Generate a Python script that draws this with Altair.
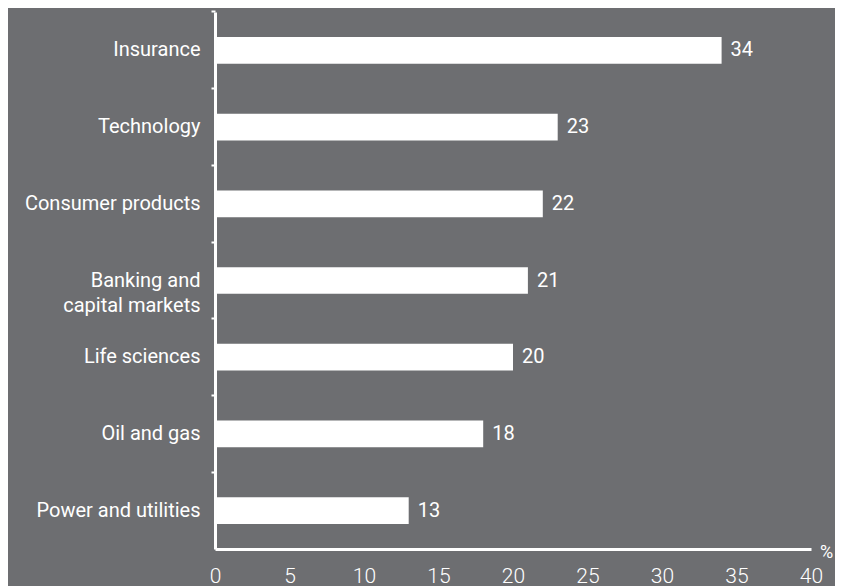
import altair as alt
import pandas as pd

categories = ["Insurance", "Technology", "Consumer products", "Banking and|capital markets",
              "Life sciences", "Oil and gas", "Power and utilities"]
values = [34, 23, 22, 21, 20, 18, 13]
x_ticks = [0, 5, 10, 15, 20, 25, 30, 35, 40]

df = pd.DataFrame({"sector": categories, "pct": values})

BG = "#6d6e71"
FONT = "Roboto"

y_enc = alt.Y(
    "sector:N",
    sort=categories,
    title=None,
    scale=alt.Scale(paddingInner=0.652, paddingOuter=0.326),
    axis=alt.Axis(
        domainColor="white", domainWidth=3,
        ticks=True, tickColor="white", tickWidth=2, tickSize=4, bandPosition=-0.937,
        labelColor="white", labelFontSize=20, labelFont=FONT, labelFontWeight="normal",
        labelPadding=11, labelLineHeight=25, labelExpr="split(datum.label, '|')",
        labelLimit=300,
    ),
)
x_enc = alt.X(
    "pct:Q",
    scale=alt.Scale(domain=[0, 40], nice=False),
    title="%",
    axis=alt.Axis(
        values=x_ticks, grid=False, ticks=False, tickSize=0,
        domainColor="white", domainWidth=3,
        labelColor="white", labelFontSize=21, labelFont=FONT, labelFontWeight=300,
        labelPadding=16, labelFlush=False,
        titleColor="white", titleFontSize=18, titleFont=FONT, titleFontWeight="normal",
        titleX=611, titleY=3, titleAlign="center", titleBaseline="middle", titleAngle=0,
    ),
)

bars = alt.Chart(df).mark_bar(color="white").encode(x=x_enc, y=y_enc)
labels = alt.Chart(df).mark_text(
    align="left", baseline="middle", dx=9, color="white", fontSize=20, font=FONT,
).encode(x="pct:Q", y=alt.Y("sector:N", sort=categories), text="pct:Q")

chart = (bars + labels).properties(
    width=596, height=537,
    background=BG,
    autosize=alt.AutoSizeParams(type="none"),
    padding={"left": 207, "top": 4, "right": 24, "bottom": 40},
).configure_view(stroke=None)

chart.save("out.html", embed_options={"renderer": "svg", "actions": False})
